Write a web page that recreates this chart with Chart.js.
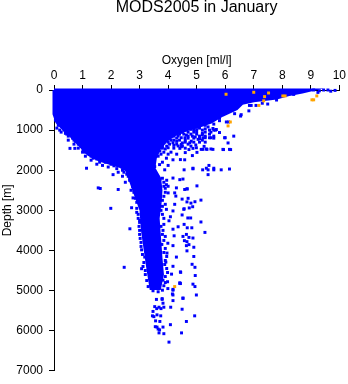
<!DOCTYPE html>
<html lang="en">
<head>
<meta charset="UTF-8">
<title>MODS2005 in January</title>
<script src="https://cdn.jsdelivr.net/npm/chart.js"></script>
<style>
  html, body { margin: 0; padding: 0; background: #fff; }
</style>
</head>
<body>
<canvas id="oxyChart" width="348" height="384"></canvas>
<script>
// axis labels
const chartTitle = 'MODS2005 in January';
const oxygenTicks = ['0', '1', '2', '3', '4', '5', '6', '7', '8', '9', '10'];
const depthTicks = ['0', '1000', '2000', '3000', '4000', '5000', '6000', '7000'];

// outline of the saturated cloud of casts (oxygen ml/l, depth m)
const coreOutline = [
  [0, 0], [9.0, 0], [8.7, 50], [8.2, 120], [7.8, 200], [7.0, 270], [6.6, 330], [6.4, 470],
  [5.9, 630], [5.5, 800], [5.1, 900], [4.7, 980], [4.3, 1080], [3.95, 1250],
  [3.7, 1450], [3.55, 1700], [3.5, 1950], [3.7, 2200], [3.75, 2500], [3.72, 2800],
  [3.65, 3200], [3.7, 3700], [3.75, 4200], [3.8, 4600], [3.7, 4950], [3.4, 4950],
  [3.3, 4500], [3.2, 4000], [3.1, 3500], [3.05, 3000], [2.85, 2600], [2.7, 2300],
  [2.55, 2000], [2.3, 1900], [1.6, 1750], [1.2, 1600], [1.0, 1450], [0.8, 1300],
  [0.6, 1150], [0.3, 950], [0.1, 800], [0, 600], [0, 0]
];

// individual blue observations
const blueCasts = [
  [9.1, 0], [9.3, 20], [9.45, 0], [9.7, 30], [9.85, 10], [9.25, 60], [9.6, 0],
  [6.85, 385], [7.08, 385], [7.49, 350], [6.56, 615], [6.91, 385], [6.83, 520],
  [6.54, 650], [6.33, 590], [6.12, 797], [5.8, 765], [6.04, 797], [5.66, 1000],
  [7.3, 330], [7.8, 250], [8.4, 110],
  [4.52, 657], [4.76, 700], [5.4, 740], [5.69, 985], [5.98, 1190], [5.45, 1190],
  [5.22, 1190], [5.05, 1230], [4.76, 1315], [4.46, 1190], [4.35, 1395], [4.17, 1315],
  [4.0, 1440], [3.94, 1190], [3.47, 1025], [3.18, 1230], [3.47, 1480], [3.71, 1520],
  [5.22, 1480], [5.92, 1480], [6.15, 1480], [4.99, 1440], [4.46, 1355], [3.53, 920],
  [3.82, 880], [4.17, 840], [4.64, 797], [4.99, 920], [5.57, 960], [4.64, 1125],
  [5.1, 1210], [5.34, 1470], [5.5, 1470], [4.41, 1455], [4.87, 1455], [3.71, 1370],
  [3.59, 1500], [4.59, 1190], [4.81, 1275], [5.3, 1190], [5.5, 1190], [6.0, 1190],
  [4.97, 1370], [5.26, 1405], [4.46, 1415], [5.16, 1480], [5.36, 1480], [5.57, 1480],
  [4.73, 1485], [5.01, 1555], [5.94, 1485], [6.19, 1485],
  [4.9, 1050], [5.0, 1100], [5.2, 1080], [5.1, 1150], [4.95, 1170],
  [4.0, 950], [4.3, 1000], [4.5, 1050], [3.9, 1080], [4.2, 1120], [4.8, 980],
  [5.3, 880], [5.0, 820], [3.75, 1000], [4.1, 1250], [3.85, 1300], [4.6, 1250], [3.8, 1400],
  [3.6, 800], [3.8, 760], [4.0, 720], [4.3, 780], [4.6, 740], [4.9, 700], [5.2, 780],
  [5.6, 850], [5.4, 920], [5.2, 1000], [4.6, 1000], [4.4, 1100], [4.0, 1180], [3.7, 1120],
  [3.6, 1200], [3.8, 1230], [4.3, 1280], [4.5, 1320], [4.2, 1380], [3.9, 1470],
  [3.75, 1600], [3.65, 1650], [3.8, 1800], [4.0, 1880], [3.7, 1860], [4.3, 1600],
  [4.6, 1560], [5.3, 1300], [5.6, 1150], [5.8, 1060], [6.3, 1150], [6.1, 1320],
  [4.75, 870], [5.1, 950], [4.3, 900],
  [5.6, 700], [5.8, 700], [4.9, 990], [5.0, 990], [5.3, 970], [5.45, 1000], [5.6, 1000],
  [4.5, 1050], [4.7, 1050], [5.0, 1040], [5.3, 1050], [5.5, 1050],
  [4.3, 1100], [4.55, 1100], [4.8, 1100], [5.2, 1110], [5.45, 1100],
  [4.0, 1150], [4.2, 1150], [4.35, 1150], [4.7, 1150], [4.85, 1150], [5.3, 1150],
  [3.8, 1200], [4.05, 1200], [4.3, 1200], [4.7, 1200], [4.9, 1200], [5.6, 1200],
  [3.95, 1250], [4.2, 1250], [4.4, 1250], [5.2, 1250],
  [3.75, 1300], [4.0, 1300], [4.6, 1300], [4.9, 1300], [5.1, 1300],
  [3.8, 1350], [4.05, 1350], [4.3, 1350], [4.7, 1350],
  [3.7, 1400], [3.95, 1400], [4.5, 1400], [4.8, 1400],
  [3.8, 1450], [4.2, 1450], [4.6, 1450], [3.6, 1550], [3.85, 1550], [4.1, 1550],
  [3.6, 1600], [4.0, 1600],
  [4.85, 1635], [4.43, 1735], [5.43, 1880], [5.21, 1990], [5.4, 1990], [5.6, 1990],
  [5.86, 1990], [6.15, 1970], [5.40, 2110], [4.87, 1965], [4.56, 1990], [4.52, 2220],
  [4.67, 2465], [5.01, 2390], [3.94, 1700], [4.17, 1740], [4.58, 1740], [4.87, 1950],
  [5.34, 1950], [5.6, 1950], [3.88, 1990], [3.53, 1910], [4.17, 2195], [4.41, 2235],
  [3.71, 2235], [3.94, 2360], [4.29, 2440], [4.58, 2480], [3.47, 2520],
  [0.56, 1455], [0.73, 1455], [1.02, 1500], [1.37, 1700], [1.14, 1950], [1.55, 2440],
  [2.07, 2110], [1.67, 1740], [2.25, 2480], [1.62, 2455], [1.99, 2950], [2.66, 3460],
  [2.46, 4420], [2.77, 2690], [2.72, 2935],
  [1.6, 1800], [1.8, 1800], [2.0, 1850], [1.7, 1880], [1.9, 1920],
  [0.2, 1000], [0.4, 1080], [0.5, 1150], [0.7, 1250], [0.85, 1350], [1.1, 1550],
  [1.3, 1650], [1.5, 1720],
  [0.15, 880], [0.35, 1000], [0.45, 1100], [0.65, 1200], [0.75, 1280], [0.95, 1400],
  [1.15, 1500], [1.3, 1600], [1.45, 1680], [1.75, 1760], [2.1, 1890], [2.2, 1960],
  [0.3, 870], [0.05, 750],
  [0.1, 950], [0.25, 1050], [0.5, 1250], [0.7, 1350], [0.85, 1450], [1.0, 1550],
  [1.1, 1650], [1.3, 1750], [1.5, 1850], [2.25, 2050], [2.4, 2150],
  [4.66, 2465], [4.49, 2720], [4.70, 2700], [4.66, 2790], [4.80, 2820], [4.94, 2785],
  [5.15, 2745], [4.56, 2960], [4.74, 2940], [4.86, 2910], [4.49, 3115], [4.69, 3190],
  [4.79, 3190], [5.15, 3290], [4.56, 3350], [4.67, 3435], [4.83, 3435], [5.29, 3550],
  [4.64, 3600], [4.52, 3650], [4.73, 3675], [4.87, 3690], [4.57, 3755], [4.66, 3780],
  [4.64, 3880], [4.73, 3855], [4.90, 3920], [4.66, 4010], [4.90, 4150], [4.84, 4345],
  [4.94, 4420], [4.44, 4545], [4.95, 4625], [4.43, 4825], [4.87, 4840], [4.94, 4900],
  [4.99, 5110], [4.52, 5185],
  [4.0, 2565], [4.23, 2565], [4.27, 2645], [4.23, 2850], [3.94, 2975], [4.17, 3015],
  [4.55, 2975], [4.08, 3160], [4.03, 3260], [4.35, 3410], [4.17, 3470], [4.21, 3635],
  [3.99, 3820], [4.17, 3880], [3.96, 4065], [4.29, 4165], [3.92, 4290], [4.17, 4395],
  [4.43, 4535], [4.12, 4590], [3.98, 4780], [4.41, 4825], [4.17, 4970], [4.15, 5085],
  [3.79, 5200], [3.07, 3985], [3.07, 4455], [3.18, 4165],
  [3.85, 2300], [3.9, 2450], [3.85, 2650], [3.8, 2900], [3.8, 3100], [3.85, 3350],
  [3.8, 3600], [3.85, 3750], [3.9, 3950], [3.9, 4250], [3.95, 4450], [3.9, 4650],
  [2.9, 2800], [2.95, 3100], [3.0, 3300], [3.0, 3600], [3.05, 3800], [3.15, 4300],
  [3.2, 4600], [3.3, 4900], [3.35, 4700], [2.6, 2150], [2.4, 2000], [2.5, 2300], [2.7, 2500],
  [2.75, 2400], [2.8, 2550], [2.85, 2700], [2.9, 2950], [2.95, 3200], [2.98, 3400],
  [3.0, 3500], [3.02, 3700], [3.05, 3900], [3.1, 4100], [3.12, 4400], [3.2, 4500],
  [3.25, 4750], [2.65, 2250], [2.55, 2100], [2.45, 2050], [2.9, 3050], [3.0, 3250],
  [3.8, 2200], [3.95, 2250], [3.85, 2400], [4.0, 2400], [3.9, 2550], [3.8, 2750],
  [3.9, 2850], [3.75, 3000], [3.85, 3200], [3.75, 3400], [3.82, 3500], [3.9, 3650],
  [3.78, 3850], [3.85, 4050], [3.95, 4150], [3.88, 4350], [3.98, 4550], [3.9, 4800],
  [3.85, 4880],
  [3.41, 4825], [3.59, 4740], [3.68, 4905], [3.82, 4740], [3.47, 5005], [3.65, 5030],
  [3.80, 4990], [3.99, 4950], [4.41, 4805], [4.17, 4990], [4.17, 5110], [4.52, 5195],
  [3.59, 5220], [3.79, 5220], [4.17, 5250], [3.82, 5315], [3.53, 5400], [3.68, 5415],
  [3.85, 5415], [4.09, 5415], [4.49, 5465], [3.47, 5520], [3.61, 5605], [3.45, 5630],
  [3.74, 5630], [4.93, 5630], [3.56, 5755], [3.71, 5770], [4.64, 5770], [3.61, 5910],
  [3.82, 5910], [4.08, 5850], [3.65, 5960], [3.68, 6055], [3.85, 6075], [4.47, 6055],
  [4.03, 6285], [3.6, 5450], [3.75, 5450], [3.5, 5650], [3.55, 5900], [3.7, 5980]
];

// flagged observations in orange
const orangeCasts = [
  [6.03, 106], [7.0, 57], [7.38, 165], [7.52, 74], [7.35, 270], [7.18, 385],
  [8.02, 148], [8.1, 148], [9.21, 148], [9.04, 245], [9.1, 245], [6.18, 797],
  [6.10, 895], [4.23, 4900]
];

const FONT = '"Liberation Sans", Arial, sans-serif';
const BLUE = '#0000ff';
const ORANGE = '#ffa500';

const toPts = arr => arr.map(([x, y]) => ({ x: x, y: y }));

// title centred over the plot area, plus the rotated depth label
const plotLabels = {
  id: 'plotLabels',
  afterDraw(chart) {
    const ctx = chart.ctx;
    const area = chart.chartArea;
    ctx.save();
    ctx.fillStyle = '#000';
    ctx.textAlign = 'center';
    ctx.textBaseline = 'middle';
    ctx.font = '16px ' + FONT;
    ctx.fillText(chartTitle, (area.left + area.right) / 2, 8);
    ctx.translate(8, chart.scales.y.getPixelForValue(3000));
    ctx.rotate(-Math.PI / 2);
    ctx.font = '12px ' + FONT;
    ctx.fillText('Depth [m]', 0, 0);
    ctx.restore();
  }
};

const axisLine = { display: true, color: '#000', width: 1 };
const tickMarks = { drawOnChartArea: false, drawTicks: true, tickLength: 5, color: '#000' };

new Chart(document.getElementById('oxyChart'), {
  type: 'scatter',
  data: {
    datasets: [
      {
        data: toPts(orangeCasts),
        order: 0,
        pointStyle: 'rect',
        pointRadius: 2.1,
        pointBorderWidth: 0,
        backgroundColor: ORANGE,
        clip: false
      },
      {
        data: toPts(blueCasts),
        order: 1,
        pointStyle: 'rect',
        pointRadius: 2.1,
        pointBorderWidth: 0,
        backgroundColor: BLUE,
        clip: false
      },
      {
        data: toPts(coreOutline),
        order: 2,
        showLine: true,
        fill: 'shape',
        tension: 0,
        pointRadius: 0,
        borderWidth: 3,
        borderColor: BLUE,
        backgroundColor: BLUE,
        clip: false
      }
    ]
  },
  options: {
    responsive: false,
    animation: false,
    events: [],
    layout: { padding: { left: 0, right: 8, top: 16, bottom: 9 } },
    plugins: {
      legend: { display: false },
      tooltip: { enabled: false },
      title: { display: false }
    },
    scales: {
      x: {
        type: 'linear',
        position: 'top',
        min: 0,
        max: 10,
        afterFit: s => { s.height = 74; },
        ticks: {
          stepSize: 1,
          autoSkip: false,
          maxRotation: 0,
          padding: 2,
          color: '#000',
          font: { family: FONT, size: 12 },
          callback: v => oxygenTicks[v]
        },
        grid: tickMarks,
        border: axisLine,
        title: {
          display: true,
          text: 'Oxygen [ml/l]',
          color: '#000',
          font: { family: FONT, size: 12 },
          padding: { top: 37, bottom: 0 }
        }
      },
      y: {
        type: 'linear',
        reverse: true,
        min: 0,
        max: 7000,
        afterFit: s => { s.width = 54; },
        ticks: {
          stepSize: 1000,
          autoSkip: false,
          padding: 6,
          color: '#000',
          font: { family: FONT, size: 12 },
          callback: v => depthTicks[v / 1000]
        },
        grid: tickMarks,
        border: axisLine
      }
    }
  },
  plugins: [plotLabels]
});
</script>
</body>
</html>
